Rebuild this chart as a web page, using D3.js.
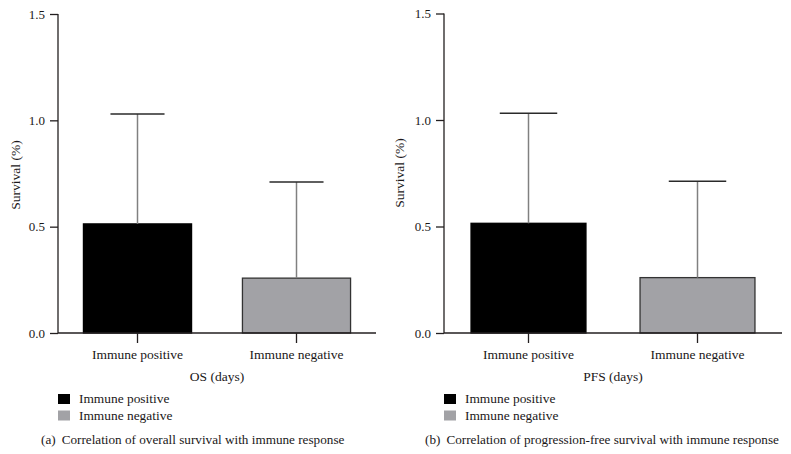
<!DOCTYPE html>
<html>
<head>
<meta charset="utf-8">
<script src="https://cdn.jsdelivr.net/npm/d3@7"></script>
<style>
  html, body { margin: 0; padding: 0; background: #fff; }
  svg text { font-family: "Liberation Serif", "Tinos", "Times New Roman", "DejaVu Serif", serif !important; fill: #1a1718; }
</style>
</head>
<body>
<svg id="chart" width="791" height="454"></svg>
<script>
// ---- data ----
const categories = ["Immune positive", "Immune negative"];
const osMeans = [0.513, 0.258];
const osUpper = [1.03, 0.71];
const pfsMeans = [0.515, 0.26];
const pfsUpper = [1.032, 0.712];
const yTicks = [0.0, 0.5, 1.0, 1.5];
const legendLabels = ["Immune positive", "Immune negative"];
const panelTitles = ["OS (days)", "PFS (days)"];
const captions = [["(a)", "Correlation of overall survival with immune response"],
                  ["(b)", "Correlation of progression-free survival with immune response"]];
const fills = ["#000000", "#a2a2a6"];
const strokes = ["#000000", "#333333"];

const svg = d3.select("#chart");

const panels = [
  { means: osMeans, upper: osUpper, x0: 58, x1: 376, yTop: 14, yBot: 333, ylabX: 15, ylabY: 175,
    title: panelTitles[0], caption: captions[0], capX: 41 },
  { means: pfsMeans, upper: pfsUpper, x0: 444, x1: 782, yTop: 13.5, yBot: 333, ylabX: 399, ylabY: 173,
    title: panelTitles[1], caption: captions[1], capX: 425 }
];

panels.forEach(p => {
  const g = svg.append("g");
  const x = d3.scaleBand().domain(categories).range([p.x0, p.x1]).paddingInner(0.32).paddingOuter(0.16);
  const y = d3.scaleLinear().domain([0, 1.5]).range([p.yBot, p.yTop]);

  // bars
  g.selectAll("rect.bar").data(categories).join("rect")
    .attr("class", "bar")
    .attr("x", d => x(d))
    .attr("width", x.bandwidth())
    .attr("y", (d, i) => y(p.means[i]))
    .attr("height", (d, i) => y(0) - y(p.means[i]))
    .attr("fill", (d, i) => fills[i])
    .attr("stroke", (d, i) => strokes[i])
    .attr("stroke-width", 1.3);

  // error bars
  const capW = x.bandwidth() * 0.5;
  g.selectAll("line.stem").data(categories).join("line")
    .attr("x1", d => x(d) + x.bandwidth() / 2)
    .attr("x2", d => x(d) + x.bandwidth() / 2)
    .attr("y1", (d, i) => y(p.means[i]))
    .attr("y2", (d, i) => y(p.upper[i]))
    .attr("stroke", "#808080").attr("stroke-width", 1.5);
  g.selectAll("line.cap").data(categories).join("line")
    .attr("x1", d => x(d) + x.bandwidth() / 2 - capW / 2)
    .attr("x2", d => x(d) + x.bandwidth() / 2 + capW / 2)
    .attr("y1", (d, i) => y(p.upper[i]))
    .attr("y2", (d, i) => y(p.upper[i]))
    .attr("stroke", "#2a2a2a").attr("stroke-width", 1.5);

  // y axis
  const yAxis = d3.axisLeft(y).tickValues(yTicks).tickFormat(d3.format(".1f")).tickSize(8).tickPadding(5);
  const ya = g.append("g").attr("transform", `translate(${p.x0},0)`).call(yAxis);
  ya.attr("font-family", null);
  ya.select(".domain").attr("d", `M0,${p.yTop}V${p.yBot}`);
  ya.selectAll("path,line").attr("stroke", "#231f20").attr("stroke-width", 1.3);
  ya.selectAll("text").style("font-size", "13px");

  // x axis
  const xAxis = d3.axisBottom(x).tickSize(10).tickPadding(8);
  const xa = g.append("g").attr("transform", `translate(0,${p.yBot})`).call(xAxis);
  xa.attr("font-family", null);
  xa.select(".domain").attr("d", `M${p.x0},0H${p.x1}`);
  xa.selectAll("path,line").attr("stroke", "#231f20").attr("stroke-width", 1.3);
  xa.selectAll("text").style("font-size", "13.5px")
    .attr("dy", null).attr("y", 26);

  // x title
  g.append("text").attr("x", (p.x0 + p.x1) / 2).attr("y", 381)
    .attr("text-anchor", "middle").style("font-size", "13.5px").text(p.title);

  // y title
  g.append("text").attr("transform", `translate(${p.ylabX},${p.ylabY}) rotate(-90)`)
    .attr("text-anchor", "middle").attr("dominant-baseline", "central")
    .style("font-size", "13.5px").text("Survival (%)");

  // legend
  legendLabels.forEach((lab, i) => {
    g.append("rect").attr("x", p.x0).attr("y", 394 + i * 16.5).attr("width", 12).attr("height", 10)
      .attr("fill", fills[i]);
    g.append("text").attr("x", p.x0 + 21).attr("y", 403 + i * 16.5)
      .style("font-size", "13.4px").text(lab);
  });

  // caption
  const cap = g.append("text").attr("x", p.capX).attr("y", 444).style("font-size", "13.2px");
  cap.append("tspan").text(p.caption[0]);
  cap.append("tspan").attr("dx", 6).text(p.caption[1]);
});
</script>
</body>
</html>
